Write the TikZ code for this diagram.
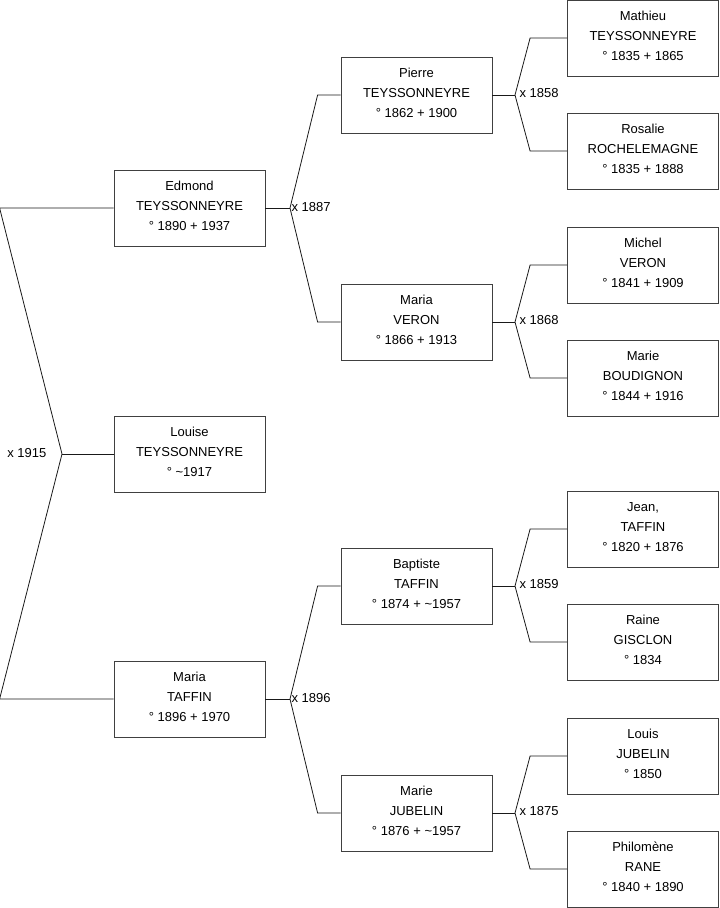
\documentclass[tikz,border=0pt]{standalone}
\usepackage{fontspec}
\setmainfont{Liberation Sans}
\usetikzlibrary{calc}

\begin{document}
\begin{tikzpicture}[
    x=0.75pt, y=-0.75pt,
    person/.style={
        draw=black!75,
        line width=0.6pt,
        minimum width=113.25pt,
        minimum height=57pt,
        text depth=3pt,
        align=center,
        font=\fontsize{9.75}{15}\selectfont
    },
    link/.style={
        draw=black!90,
        line width=0.6pt
    },
    wed/.style={
        font=\fontsize{9.75}{11}\selectfont,
        inner sep=1pt
    }
]
    \useasboundingbox (0,0) rectangle (719,908);

    % generation 1
    \node[person] (edmond) at (189.5,208) {Edmond\\TEYSSONNEYRE\\° 1890 + 1937};
    \node[person] (louise) at (189.5,454) {Louise\\TEYSSONNEYRE\\° \textasciitilde1917};
    \node[person] (mariaT) at (189.5,699) {Maria\\TAFFIN\\° 1896 + 1970};

    % generation 2
    \node[person] (pierre) at (416.5,95) {Pierre\\TEYSSONNEYRE\\° 1862 + 1900};
    \node[person] (mariaV) at (416.5,322) {Maria\\VERON\\° 1866 + 1913};
    \node[person] (baptiste) at (416.5,586) {Baptiste\\TAFFIN\\° 1874 + \textasciitilde1957};
    \node[person] (marieJ) at (416.5,813) {Marie\\JUBELIN\\° 1876 + \textasciitilde1957};

    % generation 3
    \node[person] (mathieu) at (643,38) {Mathieu\\TEYSSONNEYRE\\° 1835 + 1865};
    \node[person] (rosalie) at (643,151) {Rosalie\\ROCHELEMAGNE\\° 1835 + 1888};
    \node[person] (michel) at (643,265) {Michel\\VERON\\° 1841 + 1909};
    \node[person] (marieB) at (643,378) {Marie\\BOUDIGNON\\° 1844 + 1916};
    \node[person] (jean) at (643,529) {Jean,\\TAFFIN\\° 1820 + 1876};
    \node[person] (raine) at (643,642) {Raine\\GISCLON\\° 1834};
    \node[person] (louis) at (643,756) {Louis\\JUBELIN\\° 1850};
    \node[person] (philomene) at (643,869) {Philomène\\RANE\\° 1840 + 1890};

    % marriage 1915
    \coordinate (f1915) at (62,454);
    \draw[link] (louise.west) -- (f1915);
    \draw[link] (edmond.west) -- ($(edmond.west)+(-114,0)$) -- (f1915);
    \draw[link] (mariaT.west) -- ($(mariaT.west)+(-114,0)$) -- (f1915);
    \node[wed, left] (m1915) at ($(f1915)+(-14,-1)$) {x 1915};

    % marriage 1887
    \coordinate (f1887) at (290,208);
    \draw[link] (edmond.east) -- (f1887);
    \draw[link] (f1887) -- ($(pierre.west)+(-23,0)$) -- (pierre.west);
    \draw[link] (f1887) -- ($(mariaV.west)+(-23,0)$) -- (mariaV.west);
    \node[wed, right] (m1887) at ($(f1887)+(0,-1)$) {x 1887};

    % marriage 1896
    \coordinate (f1896) at (290,699);
    \draw[link] (mariaT.east) -- (f1896);
    \draw[link] (f1896) -- ($(baptiste.west)+(-23,0)$) -- (baptiste.west);
    \draw[link] (f1896) -- ($(marieJ.west)+(-23,0)$) -- (marieJ.west);
    \node[wed, right] (m1896) at ($(f1896)+(0,-1)$) {x 1896};

    % marriage 1858
    \coordinate (f1858) at (515,95);
    \draw[link] (pierre.east) -- (f1858);
    \draw[link] (f1858) -- ($(mathieu.west)+(-37,0)$) -- (mathieu.west);
    \draw[link] (f1858) -- ($(rosalie.west)+(-37,0)$) -- (rosalie.west);
    \node[wed, right] (m1858) at ($(f1858)+(3,-2)$) {x 1858};

    % marriage 1868
    \coordinate (f1868) at (515,322);
    \draw[link] (mariaV.east) -- (f1868);
    \draw[link] (f1868) -- ($(michel.west)+(-37,0)$) -- (michel.west);
    \draw[link] (f1868) -- ($(marieB.west)+(-37,0)$) -- (marieB.west);
    \node[wed, right] (m1868) at ($(f1868)+(3,-2)$) {x 1868};

    % marriage 1859
    \coordinate (f1859) at (515,586);
    \draw[link] (baptiste.east) -- (f1859);
    \draw[link] (f1859) -- ($(jean.west)+(-37,0)$) -- (jean.west);
    \draw[link] (f1859) -- ($(raine.west)+(-37,0)$) -- (raine.west);
    \node[wed, right] (m1859) at ($(f1859)+(3,-2)$) {x 1859};

    % marriage 1875
    \coordinate (f1875) at (515,813);
    \draw[link] (marieJ.east) -- (f1875);
    \draw[link] (f1875) -- ($(louis.west)+(-37,0)$) -- (louis.west);
    \draw[link] (f1875) -- ($(philomene.west)+(-37,0)$) -- (philomene.west);
    \node[wed, right] (m1875) at ($(f1875)+(3,-2)$) {x 1875};

\end{tikzpicture}
\end{document}
